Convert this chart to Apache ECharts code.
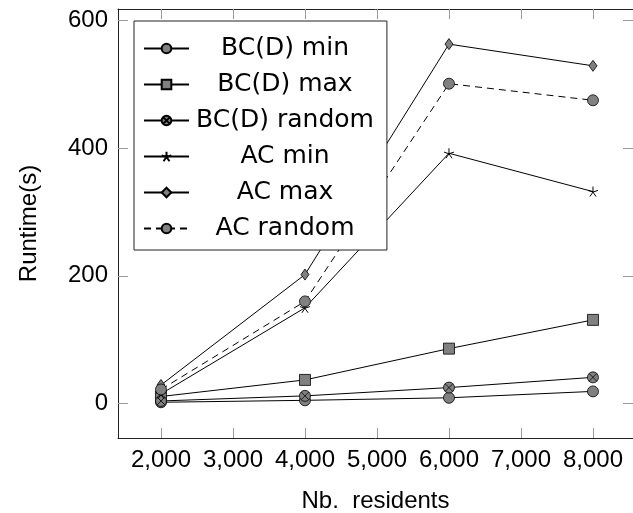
<!DOCTYPE html>
<html>
<head>
<meta charset="utf-8">
<script src="https://cdn.jsdelivr.net/npm/echarts@6/dist/echarts.min.js"></script>
<style>
  html, body { margin: 0; padding: 0; background: #fff; }
  #chart { width: 633px; height: 513px; }
</style>
</head>
<body>
<div id="chart"></div>
<script>
// x positions (number of residents)
var residents = [2000, 4000, 6000, 8000];

// runtimes in seconds
var bcdMin = [2, 5, 9, 19];
var bcdMax = [11, 37, 86, 131];
var bcdRandom = [4, 12, 25, 41];
var acMin = [15, 150, 392, 332];
var acMax = [29, 202, 563, 529];
var acRandom = [22, 160, 501, 475];

var xTicks = [2000, 3000, 4000, 5000, 6000, 7000, 8000];
var yTicks = [0, 200, 400, 600];

var labelFont = "Liberation Sans";
var legendFont = "DejaVu Sans";

var otimes = "path://M-10 0A10 10 0 1 0 10 0A10 10 0 1 0 -10 0Z" +
  "M-7.07 -7.07L7.07 7.07M-7.07 7.07L7.07 -7.07";
var star = "path://M0 0L0 -10M0 0L9.51 -3.09M0 0L5.88 8.09M0 0L-5.88 8.09M0 0L-9.51 -3.09";

function pairs(ys) {
  return residents.map(function (x, i) { return [x, ys[i]]; });
}

function makeSeries(name, ys, symbol, size, dashed) {
  return {
    name: name,
    type: "line",
    data: pairs(ys),
    symbol: symbol,
    symbolSize: size,
    showAllSymbol: true,
    lineStyle: { color: "#000", width: 1, type: dashed ? [7, 5] : "solid" },
    itemStyle: {
      color: symbol === star ? "rgba(0,0,0,0)" : "#808080",
      borderColor: "#000",
      borderWidth: symbol === star ? 1 : 0.8
    },
    emphasis: { disabled: true }
  };
}

var tickStyle = { show: true, inside: true, length: 10, lineStyle: { color: "#999", width: 1 } };
var frameLine = { show: true, onZero: false, lineStyle: { color: "#222", width: 1 } };

var myChart = echarts.init(document.getElementById("chart"));
var option = {
  animation: false,
  backgroundColor: "#fff",
  grid: { left: 118, right: 0, top: 9, bottom: 75, outerBoundsMode: "none", containLabel: false },
  legend: {
    orient: "vertical",
    left: 134,
    top: 21,
    padding: [15, 13, 9, 9],
    itemWidth: 45,
    itemHeight: 12,
    itemGap: 11,
    backgroundColor: "#fff",
    borderColor: "#222",
    borderWidth: 1,
    borderRadius: 0,
    formatter: function (name) { return "{t|" + name + "}"; },
    textStyle: {
      rich: {
        t: { width: 182, align: "center", fontSize: 25, fontFamily: legendFont, color: "#000" }
      }
    },
    data: ["BC(D) min", "BC(D) max", "BC(D) random", "AC min", "AC max", "AC random"]
  },
  xAxis: [{
    type: "value",
    min: 1403,
    max: 8556,
    name: "Nb.  residents",
    nameLocation: "middle",
    nameGap: 51,
    nameTextStyle: { fontSize: 24, fontFamily: labelFont, color: "#000" },
    axisLine: frameLine,
    splitLine: { show: false },
    axisTick: Object.assign({ customValues: xTicks }, tickStyle),
    axisLabel: {
      customValues: xTicks,
      margin: 10,
      fontSize: 24,
      fontFamily: labelFont,
      color: "#000",
      formatter: function (v) { return v.toLocaleString("en-US"); }
    }
  }, {
    type: "value",
    position: "top",
    min: 1403,
    max: 8556,
    axisLine: frameLine,
    splitLine: { show: false },
    axisTick: Object.assign({ customValues: xTicks }, tickStyle),
    axisLabel: { show: false }
  }],
  yAxis: [{
    type: "value",
    min: -54,
    max: 618,
    name: "Runtime(s)",
    nameLocation: "middle",
    nameGap: 77,
    nameTextStyle: { fontSize: 24, fontFamily: labelFont, color: "#000" },
    axisLine: frameLine,
    splitLine: { show: false },
    axisTick: Object.assign({ customValues: yTicks }, tickStyle),
    axisLabel: {
      customValues: yTicks,
      margin: 10,
      fontSize: 24,
      fontFamily: labelFont,
      color: "#000"
    }
  }, {
    type: "value",
    position: "right",
    min: -54,
    max: 618,
    axisLine: { show: false },
    splitLine: { show: false },
    axisTick: Object.assign({ customValues: yTicks }, tickStyle),
    axisLabel: { show: false }
  }],
  series: [
    makeSeries("BC(D) min", bcdMin, "circle", 11, false),
    makeSeries("BC(D) max", bcdMax, "rect", 11, false),
    makeSeries("BC(D) random", bcdRandom, otimes, 11, false),
    makeSeries("AC min", acMin, star, 10, false),
    makeSeries("AC max", acMax, "diamond", [8, 11], false),
    makeSeries("AC random", acRandom, "circle", 11, true)
  ]
};
if (option && typeof option === "object") {
  myChart.setOption(option, true);
}
</script>
</body>
</html>
